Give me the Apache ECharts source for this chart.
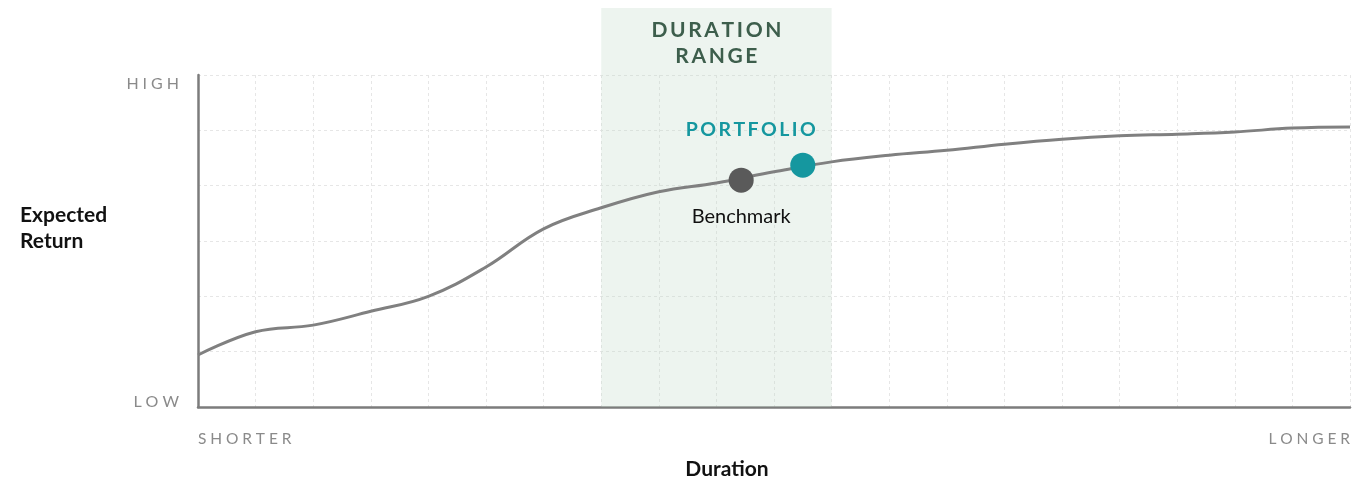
<!DOCTYPE html>
<html>
<head>
<meta charset="utf-8">
<script src="https://cdn.jsdelivr.net/npm/echarts@6/dist/echarts.min.js"></script>
<style>
  html, body { margin: 0; padding: 0; background: #fff; overflow: hidden; }
  #chart { width: 1363px; height: 479px; }
</style>
</head>
<body>
<div id="chart"></div>
<script>
// duration steps 0..20, expected return on a 0..6 scale
const durations = [0, 1, 2, 3, 4, 5, 6, 7, 8, 9, 10, 11, 12, 13, 14, 15, 16, 17, 18, 19, 20];
const curve = [0.94, 1.36, 1.48, 1.73, 2.0, 2.53, 3.22, 3.6, 3.89, 4.05, 4.25, 4.43, 4.55, 4.64, 4.75, 4.84, 4.9, 4.93, 4.97, 5.04, 5.06];
const benchmark = [9.43, 4.1];
const portfolio = [10.5, 4.37];
// duration range band: x from / to, y from / to (top sits above the plot)
const band = [7, 11, 0, 7.21];
const yLabels = { 0: "LOW", 6: "HIGH" };
const xLabels = { 0: "SHORTER", 20: "LONGER" };

const font = "Lato, 'Noto Sans', sans-serif";
const spaced = (s, gap) => s.split("").join(gap || "\u2009");
const wide = s => spaced(s, "\u2009\u2009");

const chart = echarts.init(document.getElementById("chart"));
chart.setOption({
  animation: false,
  textStyle: { fontFamily: font },
  grid: { left: 198, right: 13, top: 75, bottom: 72, outerBoundsMode: "none", containLabel: false },
  xAxis: {
    type: "value", min: 0, max: 20, interval: 1,
    name: "Duration", nameLocation: "middle", nameGap: 52,
    nameTextStyle: { fontSize: 21, fontWeight: "bold", color: "#111", padding: [0, 94, 0, 0] },
    axisLine: { show: true, onZero: false, lineStyle: { color: "#7c7c7c", width: 2.5 } },
    axisTick: { show: false },
    splitLine: { show: true, lineStyle: { color: "#e6e6e6", type: [3, 3], width: 1 } },
    axisLabel: {
      margin: 24, color: "#8a8a8a", fontSize: 15.5,
      alignMinLabel: "left", alignMaxLabel: "right",
      formatter: v => xLabels[v] ? wide(xLabels[v]) : ""
    }
  },
  yAxis: {
    type: "value", min: 0, max: 6, interval: 1,
    name: "Expected\nReturn\n\u00a0", nameLocation: "middle", nameRotate: 0, nameGap: 178,
    nameTextStyle: { fontSize: 21, fontWeight: "bold", color: "#111", align: "left", lineHeight: 26 },
    axisLine: { show: true, lineStyle: { color: "#7c7c7c", width: 2.5 } },
    axisTick: { show: false },
    splitLine: { show: true, lineStyle: { color: "#e6e6e6", type: [3, 3], width: 1 } },
    axisLabel: {
      margin: 19, color: "#8a8a8a", fontSize: 16,
      formatter: v => v === 6 ? "{hi|" + wide(yLabels[v]) + "}" : v === 0 ? "{lo|" + wide(yLabels[v]) + "}" : "",
      rich: {
        hi: { color: "#8a8a8a", fontSize: 16, padding: [18, 0, 0, 0] },
        lo: { color: "#8a8a8a", fontSize: 16, padding: [0, 0, 10, 0] }
      }
    }
  },
  series: [
    {
      type: "custom",
      data: [band],
      encode: { x: [0, 1], y: [2, 3] },
      silent: true,
      z: 1,
      renderItem: (params, api) => {
        const tl = api.coord([api.value(0), api.value(3)]);
        const br = api.coord([api.value(1), api.value(2)]);
        return {
          type: "group",
          children: [
            {
              type: "rect",
              shape: { x: tl[0], y: tl[1], width: br[0] - tl[0], height: br[1] - tl[1] },
              style: { fill: "rgba(190,215,198,0.28)" }
            },
            {
              type: "text",
              x: (tl[0] + br[0]) / 2, y: tl[1] + 9,
              style: {
                text: spaced("DURATION") + "\n" + spaced("RANGE"),
                fill: "#3d5e4c", font: "bold 21px " + font,
                align: "center", verticalAlign: "top", lineHeight: 26
              }
            }
          ]
        };
      }
    },
    {
      type: "line",
      data: durations.map((d, i) => [d, curve[i]]),
      smooth: 0.4,
      symbol: "none",
      lineStyle: { color: "#808080", width: 3 },
      z: 2
    },
    {
      type: "scatter",
      data: [benchmark],
      symbolSize: 25,
      itemStyle: { color: "#5a5a5a", opacity: 1 },
      label: {
        show: true, position: "bottom", distance: 14,
        color: "#111", fontSize: 20, formatter: "Benchmark"
      },
      z: 3
    },
    {
      type: "scatter",
      data: [portfolio],
      symbolSize: 25,
      itemStyle: { color: "#15979f", opacity: 1 },
      label: {
        show: true, position: "top", offset: [-52, -8],
        color: "#15979f", fontSize: 19.5, fontWeight: "bold",
        formatter: spaced("PORTFOLIO")
      },
      z: 3
    }
  ]
});
</script>
</body>
</html>
